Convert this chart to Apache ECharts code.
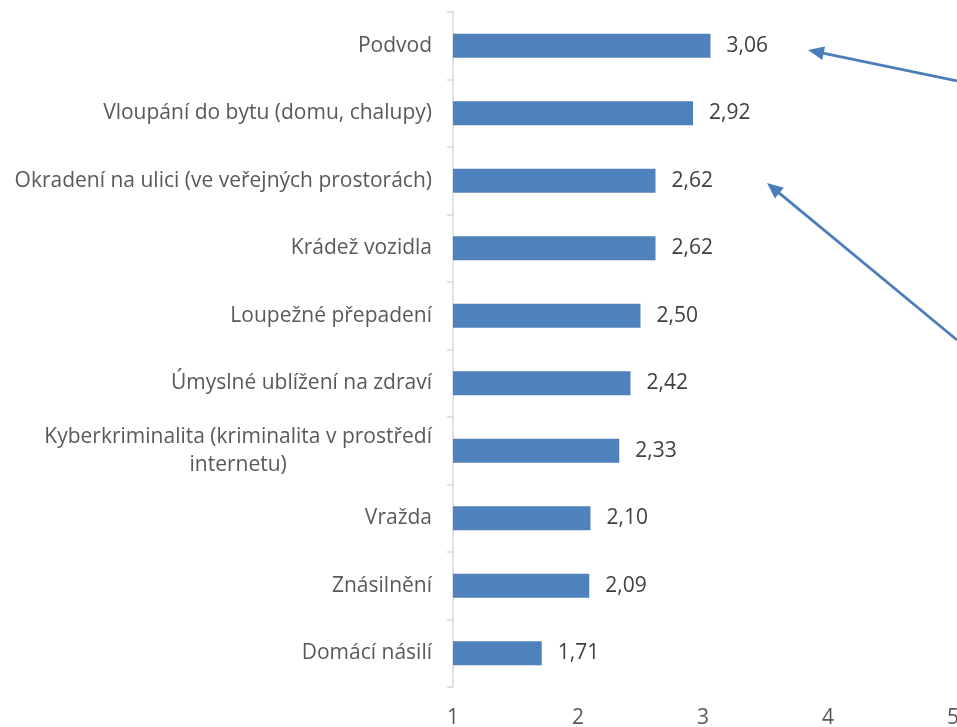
<!DOCTYPE html>
<html><head><meta charset="utf-8">
<script src="https://cdn.jsdelivr.net/npm/echarts@6/dist/echarts.min.js"></script>
<style>html,body{margin:0;padding:0;background:#fff}#c{width:957px;height:727px}</style>
</head><body><div id="c"></div>
<script>
var categories = [
  "Podvod",
  "Vloupání do bytu (domu, chalupy)",
  "Okradení na ulici (ve veřejných prostorách)",
  "Krádež vozidla",
  "Loupežné přepadení",
  "Úmyslné ublížení na zdraví",
  "Kyberkriminalita (kriminalita v prostředí\ninternetu)",
  "Vražda",
  "Znásilnění",
  "Domácí násilí"
];
var values = [3.06, 2.92, 2.62, 2.62, 2.50, 2.42, 2.33, 2.10, 2.09, 1.71];
var xTicks = [1, 2, 3, 4, 5];

var FONT = "Open Sans";
var FS = 21;
var chart = echarts.init(document.getElementById('c'), null, {renderer: 'canvas'});

function arrow(x1, y1, x2, y2) {
  var dx = x2 - x1, dy = y2 - y1, L = Math.sqrt(dx*dx + dy*dy);
  var ux = dx / L, uy = dy / L, hl = 16, hw = 7;
  var bx = x2 - ux*hl, by = y2 - uy*hl;
  return [
    {type: 'line', shape: {x1: x1, y1: y1, x2: bx + ux*2, y2: by + uy*2}, style: {stroke: '#4A7EBB', lineWidth: 2.8}, z: 10},
    {type: 'polygon', shape: {points: [[x2, y2], [bx - uy*hw, by + ux*hw], [bx + uy*hw, by - ux*hw]]}, style: {fill: '#4A7EBB'}, z: 10}
  ];
}

chart.setOption({
  animation: false,
  grid: {left: 453, right: 4, top: 12, bottom: 40, containLabel: false, outerBoundsMode: 'none'},
  xAxis: {
    type: 'value', min: xTicks[0], max: xTicks[xTicks.length - 1], interval: 1,
    axisLine: {show: false}, axisTick: {show: false}, splitLine: {show: false},
    axisLabel: {color: '#595959', fontSize: FS, fontFamily: FONT, margin: 21}
  },
  yAxis: {
    type: 'category', data: categories, inverse: true,
    axisLine: {show: true, lineStyle: {color: '#D9D9D9', width: 1.5}},
    axisTick: {show: true, length: 6, lineStyle: {color: '#D9D9D9', width: 1.5}},
    axisLabel: {
      color: '#595959', fontSize: FS, fontFamily: FONT, margin: 21, align: 'right',
      formatter: function (v) {
        return v.split('\n').map(function (s) { return '{c|' + s + '}'; }).join('\n');
      },
      rich: {c: {align: 'center', color: '#595959', fontSize: FS, fontFamily: FONT, lineHeight: 28}}
    }
  },
  series: [{
    type: 'bar', data: values, barWidth: 24,
    itemStyle: {color: '#4F81BD'},
    label: {
      show: true, position: 'right', distance: 16, color: '#404040', fontSize: FS, fontFamily: FONT,
      formatter: function (p) { return p.value.toFixed(2).replace('.', ','); }
    }
  }],
  graphic: arrow(957, 81, 808, 50).concat(arrow(957, 340, 767, 183))
});
</script></body></html>
